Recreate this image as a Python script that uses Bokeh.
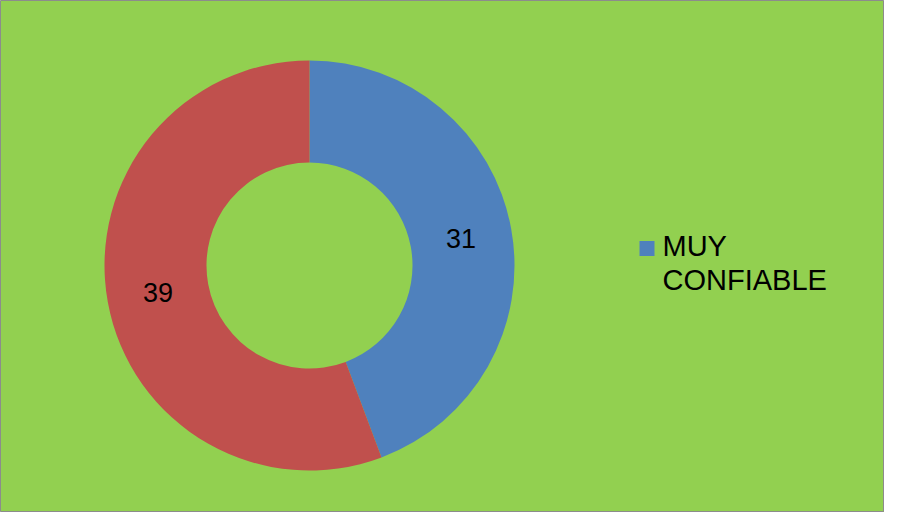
import math
from bokeh.plotting import figure
from bokeh.models import Range1d, ColumnDataSource
from bokeh.core.properties import value
from bokeh.embed import file_html
from bokeh.resources import INLINE

# Data
categories = ["MUY CONFIABLE", "OTRO"]
values = [31, 39]
colors = ["#4F81BD", "#C0504D"]
legend_lines = ["MUY", "CONFIABLE"]

W, H = 884, 512
p = figure(width=W, height=H, output_backend="svg", toolbar_location=None,
           x_range=Range1d(0, W), y_range=Range1d(0, H), min_border=0)
p.axis.visible = False
p.grid.visible = False
p.background_fill_color = "#92D050"
p.border_fill_color = "#92D050"
p.outline_line_color = "#8C8C8C"

cx, cy = 309, 247
r_out, r_in = 205, 103

total = sum(values)
starts, ends, mids = [], [], []
cum = 0.0
for v in values:
    a0 = math.pi / 2 - 2 * math.pi * cum / total
    cum += v
    a1 = math.pi / 2 - 2 * math.pi * cum / total
    starts.append(a1)
    ends.append(a0)
    mids.append((a0 + a1) / 2)

src = ColumnDataSource(dict(start=starts, end=ends, color=colors,
                            cat=categories))
p.annular_wedge(x=cx, y=cy, inner_radius=r_in, outer_radius=r_out,
                inner_radius_units="screen", outer_radius_units="screen",
                start_angle="start", end_angle="end", color="color",
                line_color=None, source=src)

r_lab = (r_out + r_in) / 2
lab = ColumnDataSource(dict(
    x=[cx + r_lab * math.cos(m) for m in mids],
    y=[cy + r_lab * math.sin(m) for m in mids],
    t=[str(v) for v in values]))
p.text(x="x", y="y", text="t", source=lab, text_align="center",
       text_baseline="middle", text_font=value("Liberation Sans"),
       text_font_size="27px", text_color="#000000")

# Legend (only first entry visible)
p.rect(x=[646.5], y=[264], width=15, height=15, width_units="screen",
       height_units="screen", fill_color=colors[0], line_color=None)
p.text(x=[662, 662], y=[267, 233], text=legend_lines, text_align="left",
       text_baseline="alphabetic", text_font=value("Liberation Sans"),
       text_font_size="29px", text_color="#000000")

open("out.html", "w").write(file_html(p, INLINE))
